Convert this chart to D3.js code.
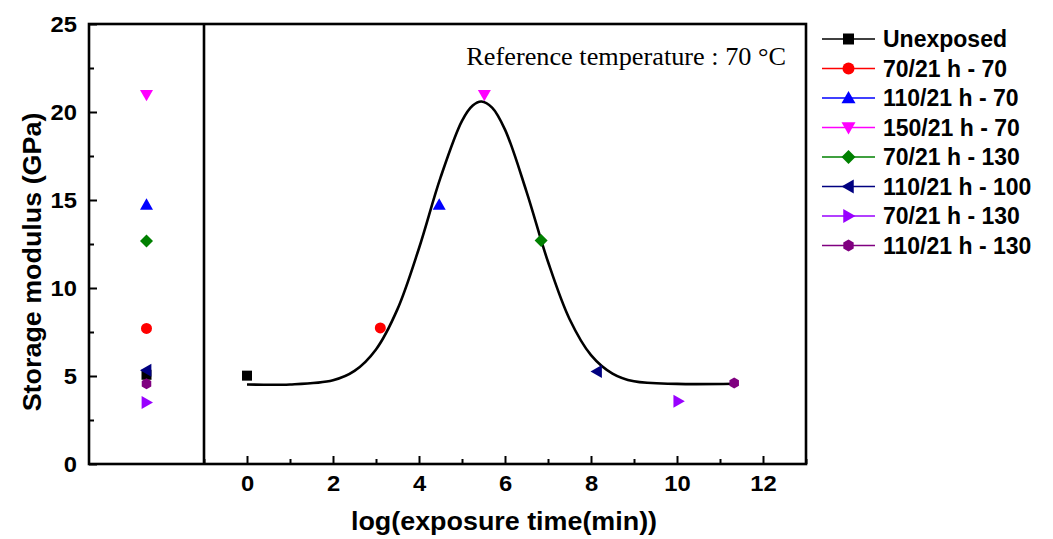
<!DOCTYPE html>
<html>
<head>
<meta charset="utf-8">
<script src="https://cdn.jsdelivr.net/npm/d3@7"></script>
<style>
  html, body { margin: 0; padding: 0; background: #fff; }
  svg { display: block; }
  .sans { font-family: "Liberation Sans", Arial, sans-serif; font-weight: bold; }
  .serif { font-family: "Liberation Serif", "Times New Roman", serif; }
</style>
</head>
<body>
<svg width="1053" height="539"></svg>
<script>
// series, legend order
const seriesNames = ["Unexposed", "70/21 h - 70", "110/21 h - 70", "150/21 h - 70",
  "70/21 h - 130", "110/21 h - 100", "70/21 h - 130", "110/21 h - 130"];
const seriesColors = ["#000000", "#ff0000", "#0000ff", "#ff00ff",
  "#008000", "#000080", "#9900ff", "#800080"];
const seriesShapes = ["square", "circle", "up", "down", "diamond", "left", "right", "hexagon"];

// values
const leftValues = [5.07, 7.70, 14.73, 20.98, 12.67, 5.32, 3.50, 4.56];
const shiftX = [0, 3.10, 4.47, 5.52, 6.84, 8.14, 10.03, 11.33];
const shiftY = [5.02, 7.73, 14.73, 20.98, 12.70, 5.26, 3.56, 4.60];

// fitted master curve
const fitX = [0, 1, 2, 2.5, 3, 3.5, 4, 4.5, 5, 5.25, 5.45, 5.7, 6, 6.5, 7, 7.5, 8, 8.5, 9, 10, 11.33];
const fitY = [4.52, 4.52, 4.76, 5.29, 6.51, 8.80, 12.26, 16.27, 19.5, 20.37, 20.6, 20.25, 19.0,
  15.48, 11.49, 8.24, 6.19, 5.14, 4.70, 4.55, 4.56];

const xTicks = [0, 2, 4, 6, 8, 10, 12];
const xMinor = [-1, 1, 3, 5, 7, 9, 11, 13];
const yTicks = [0, 5, 10, 15, 20, 25];
const yMinor = [2.5, 7.5, 12.5, 17.5, 22.5];

const svg = d3.select("svg");
const frame = { top: 24, bottom: 464, left: 89, split: 204, right: 806 };

const y = d3.scaleLinear().domain([0, 25]).range([frame.bottom, frame.top]);
const x = d3.scaleLinear().domain([-1, 13]).range([frame.split, frame.right]);
const xLeft = d3.scalePoint().domain(["raw"]).range([frame.left, frame.split]).padding(0.5);

// marker shapes, r = half size
function shapePath(shape, r) {
  switch (shape) {
    case "square": return `M${-r},${-r}H${r}V${r}H${-r}Z`;
    case "circle": return `M${r},0A${r},${r} 0 1,1 ${-r},0A${r},${r} 0 1,1 ${r},0Z`;
    case "up": return `M0,${-r}L${r},${r * 0.75}L${-r},${r * 0.75}Z`;
    case "down": return `M0,${r}L${r},${-r * 0.75}L${-r},${-r * 0.75}Z`;
    case "left": return `M${-r},0L${r * 0.75},${-r}L${r * 0.75},${r}Z`;
    case "right": return `M${r},0L${-r * 0.75},${-r}L${-r * 0.75},${r}Z`;
    case "diamond": return `M0,${-r}L${r},0L0,${r}L${-r},0Z`;
    case "hexagon": {
      const pts = d3.range(6).map(i => {
        const a = Math.PI / 6 + i * Math.PI / 3;
        return [r * Math.cos(a), r * Math.sin(a)];
      });
      return "M" + pts.map(p => p.join(",")).join("L") + "Z";
    }
  }
}
const shapeSize = { square: 5, circle: 5.5, up: 6.5, down: 6.5, left: 6.5, right: 6.5, diamond: 6.5, hexagon: 5.5 };
const legendSize = { square: 5.5, circle: 6, up: 7, down: 7, left: 7, right: 7, diamond: 7, hexagon: 6 };

// fit curve
const line = d3.line()
  .x(d => x(d[0]))
  .y(d => y(d[1]))
  .curve(d3.curveCatmullRom.alpha(0.5));
svg.append("path")
  .datum(fitX.map((v, i) => [v, fitY[i]]))
  .attr("d", line)
  .attr("fill", "none")
  .attr("stroke", "#000")
  .attr("stroke-width", 2.6);

// points in the left (raw) panel and the shifted panel
const points = seriesNames.map((name, i) => ({
  i, shape: seriesShapes[i], color: seriesColors[i],
  left: leftValues[i], sx: shiftX[i], sy: shiftY[i]
}));

svg.append("g").selectAll("path")
  .data(points)
  .join("path")
  .attr("transform", d => `translate(${xLeft("raw")},${y(d.left)})`)
  .attr("d", d => shapePath(d.shape, shapeSize[d.shape]))
  .attr("fill", d => d.color);

svg.append("g").selectAll("path")
  .data(points)
  .join("path")
  .attr("transform", d => `translate(${x(d.sx)},${y(d.sy)})`)
  .attr("d", d => shapePath(d.shape, shapeSize[d.shape]))
  .attr("fill", d => d.color);

// axes
const yAxis = svg.append("g")
  .attr("transform", `translate(${frame.left},0)`)
  .call(d3.axisLeft(y).tickValues(yTicks).tickSizeInner(-8).tickSizeOuter(0).tickPadding(12));
yAxis.append("g")
  .call(d3.axisLeft(y).tickValues(yMinor).tickSizeInner(-5).tickSizeOuter(0).tickFormat(""));

const xAxis = svg.append("g")
  .attr("transform", `translate(0,${frame.bottom})`)
  .call(d3.axisBottom(x).tickValues(xTicks).tickSizeInner(-8).tickSizeOuter(0).tickPadding(11));
xAxis.append("g")
  .call(d3.axisBottom(x).tickValues(xMinor).tickSizeInner(-5).tickSizeOuter(0).tickFormat(""));

svg.selectAll(".domain").remove();
svg.selectAll(".tick line").attr("stroke", "#000").attr("stroke-width", 2);
svg.selectAll(".tick text")
  .attr("class", "sans")
  .attr("data-stretch", 1.08)
  .attr("font-size", 22)
  .attr("fill", "#000");

// frame: outer box plus the divider between the panels
const box = svg.append("g").attr("fill", "none").attr("stroke", "#000").attr("stroke-width", 2.6);
box.append("rect")
  .attr("x", frame.left).attr("y", frame.top)
  .attr("width", frame.right - frame.left).attr("height", frame.bottom - frame.top);
box.append("line")
  .attr("x1", frame.split).attr("x2", frame.split)
  .attr("y1", frame.top).attr("y2", frame.bottom);

// axis titles
svg.append("text")
  .attr("class", "sans")
  .attr("data-stretch", 1.075)
  .attr("font-size", 25)
  .attr("text-anchor", "middle")
  .attr("transform", `translate(504,530)`)
  .text("log(exposure time(min))");

svg.append("text")
  .attr("class", "sans")
  .attr("data-stretch", 1.075)
  .attr("font-size", 25)
  .attr("text-anchor", "middle")
  .attr("transform", `translate(41,262) rotate(-90)`)
  .text("Storage modulus (GPa)");

svg.append("text")
  .attr("class", "serif")
  .attr("data-stretch", 1.01)
  .attr("font-size", 26)
  .attr("text-anchor", "end")
  .attr("x", 786)
  .attr("y", 65)
  .text("Reference temperature : 70 °C");

// legend
const legend = svg.append("g").attr("transform", "translate(822,39)");
const rows = legend.selectAll("g")
  .data(points)
  .join("g")
  .attr("transform", d => `translate(0,${d.i * 29.5})`);
rows.append("line")
  .attr("x1", 0).attr("x2", 53)
  .attr("stroke", d => d.color)
  .attr("stroke-width", 1.4);
rows.append("path")
  .attr("transform", "translate(26.5,0)")
  .attr("d", d => shapePath(d.shape, legendSize[d.shape]))
  .attr("fill", d => d.color);
rows.append("text")
  .attr("class", "sans")
  .attr("data-stretch", 1.0)
  .attr("font-size", 23)
  .attr("x", 61)
  .attr("dy", "0.36em")
  .text((d, i) => seriesNames[i]);

// the original artwork is a little wider than the fonts
svg.selectAll("[data-stretch]").each(function () {
  const k = +this.getAttribute("data-stretch");
  if (k === 1) return;
  const w = this.getComputedTextLength();
  d3.select(this).attr("textLength", w * k).attr("lengthAdjust", "spacingAndGlyphs");
});
</script>
</body>
</html>
